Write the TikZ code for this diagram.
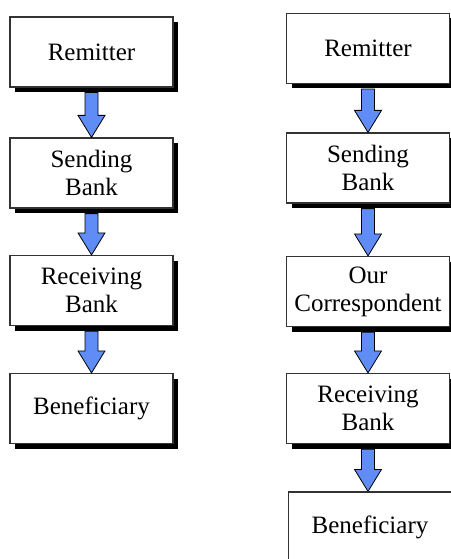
\documentclass[tikz,border=0pt]{standalone}
\usepackage{fontspec}
\setmainfont{Liberation Serif}
\usetikzlibrary{calc,shadows}

\definecolor{flowblue}{RGB}{95,140,245}

% block arrow from the bottom of one box to the top of the next
\newcommand{\flowarrow}[2]{%
  \draw[flowarrow] let \p1=(#1.south), \p2=(#2.north) in
    (\x1-6.5pt,\y1-5pt) -- (\x1+6.5pt,\y1-5pt) -- (\x1+6.5pt,\y2+22pt)
    -- (\x1+13.5pt,\y2+22pt) -- (\x1,\y2) -- (\x1-13.5pt,\y2+22pt)
    -- (\x1-6.5pt,\y2+22pt) -- cycle;}

\begin{document}
\begin{tikzpicture}[x=1pt,y=-1pt,
        every node/.style={font=\fontsize{25}{28}\selectfont},
        flowbox/.style={draw=black!80,line width=1.2pt,fill=white,
            minimum width=163pt,minimum height=70pt,inner sep=0pt,align=center,
            drop shadow={shadow xshift=5pt,shadow yshift=-5pt,fill=black,opacity=1}},
        flowarrow/.style={draw=black,line width=0.8pt,fill=flowblue}]
    \useasboundingbox (0,0) rectangle (450,559);
    % left column
    \node[flowbox] (lrem) at (91.5,52) {Remitter};
    \node[flowbox] (lsend) at (91.5,173) {Sending\\Bank};
    \node[flowbox] (lrecv) at (91.5,290.5) {Receiving\\Bank};
    \node[flowbox] (lben) at (91.5,408.5) {Beneficiary};
    % right column
    \node[flowbox] (rrem) at (368,48.5) {Remitter};
    \node[flowbox] (rsend) at (368,168) {Sending\\Bank};
    \node[flowbox] (rcorr) at (368,291.5) {Our\\Correspondent};
    \node[flowbox] (rrecv) at (368,408.5) {Receiving\\Bank};
    \node[flowbox] (rben) at (370,527) {Beneficiary};
    \flowarrow{lrem}{lsend}
    \flowarrow{lsend}{lrecv}
    \flowarrow{lrecv}{lben}
    \flowarrow{rrem}{rsend}
    \flowarrow{rsend}{rcorr}
    \flowarrow{rcorr}{rrecv}
    \flowarrow{rrecv}{rben}
\end{tikzpicture}
\end{document}
